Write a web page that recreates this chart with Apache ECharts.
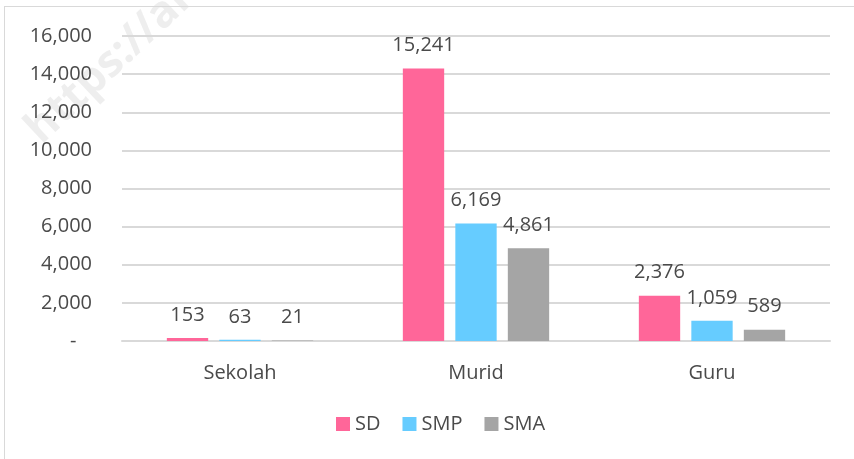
<!DOCTYPE html>
<html>
<head>
<meta charset="utf-8">
<script src="https://cdn.jsdelivr.net/npm/echarts@6/dist/echarts.min.js"></script>
<style>
  html, body { margin: 0; padding: 0; background: #fff; }
  #chart { width: 854px; height: 459px; }
</style>
</head>
<body>
<div id="chart"></div>
<script>
var categories = ['Sekolah', 'Murid', 'Guru'];
var seriesNames = ['SD', 'SMP', 'SMA'];
// bar heights as drawn
var sdValues = [153, 14300, 2376];
var smpValues = [63, 6169, 1059];
var smaValues = [21, 4861, 589];
// label texts as printed
var sdLabels = ['153', '15,241', '2,376'];
var smpLabels = ['63', '6,169', '1,059'];
var smaLabels = ['21', '4,861', '589'];
var colors = ['#FF6699', '#66CCFF', '#A5A5A5'];

var font = '"Open Sans", sans-serif';
var txt = '#4a4a4a';

function makeSeries(name, values, labels, color) {
  return {
    name: name,
    type: 'bar',
    data: values,
    barGap: '27%',
    barCategoryGap: '38%',
    itemStyle: { color: color },
    label: {
      show: true,
      position: 'top',
      distance: 13,
      color: txt,
      fontFamily: font,
      fontSize: 20,
      formatter: function (p) { return labels[p.dataIndex]; }
    }
  };
}

var chart = echarts.init(document.getElementById('chart'));
chart.setOption({
  animation: false,
  color: colors,
  grid: { left: 122, right: 24, top: 36, bottom: 118 },
  graphic: [
    { type: 'line', shape: { x1: 4.5, y1: 6, x2: 4.5, y2: 459 }, style: { stroke: '#D9D9D9', lineWidth: 1 } },
    { type: 'line', shape: { x1: 4, y1: 6.5, x2: 854, y2: 6.5 }, style: { stroke: '#D9D9D9', lineWidth: 1 } },
    {
      type: 'text', x: 48, y: 152, rotation: Math.PI * 0.24, z: -1,
      style: { text: 'https://al', fill: 'rgba(200,200,200,0.3)', font: 'bold 44px "Open Sans", sans-serif', textVerticalAlign: 'bottom' }
    }
  ],
  legend: {
    bottom: 20,
    left: 331,
    itemWidth: 14,
    itemHeight: 14,
    itemGap: 22,
    icon: 'rect',
    textStyle: { color: txt, fontFamily: font, fontSize: 20 },
    data: seriesNames
  },
  xAxis: {
    type: 'category',
    data: categories,
    axisLine: { lineStyle: { color: '#D9D9D9', width: 2 } },
    axisTick: { show: false },
    axisLabel: { color: txt, fontFamily: font, fontSize: 20, margin: 22 }
  },
  yAxis: {
    type: 'value',
    min: 0,
    max: 16000,
    interval: 2000,
    axisLine: { show: false },
    axisTick: { show: false },
    splitLine: { lineStyle: { color: '#D9D9D9', width: 2 } },
    axisLabel: {
      color: txt, fontFamily: font, fontSize: 20, margin: 30,
      formatter: function (v) { return v === 0 ? '-   ' : v.toLocaleString('en-US'); }
    }
  },
  series: [
    makeSeries(seriesNames[0], sdValues, sdLabels, colors[0]),
    makeSeries(seriesNames[1], smpValues, smpLabels, colors[1]),
    makeSeries(seriesNames[2], smaValues, smaLabels, colors[2])
  ]
});
</script>
</body>
</html>
